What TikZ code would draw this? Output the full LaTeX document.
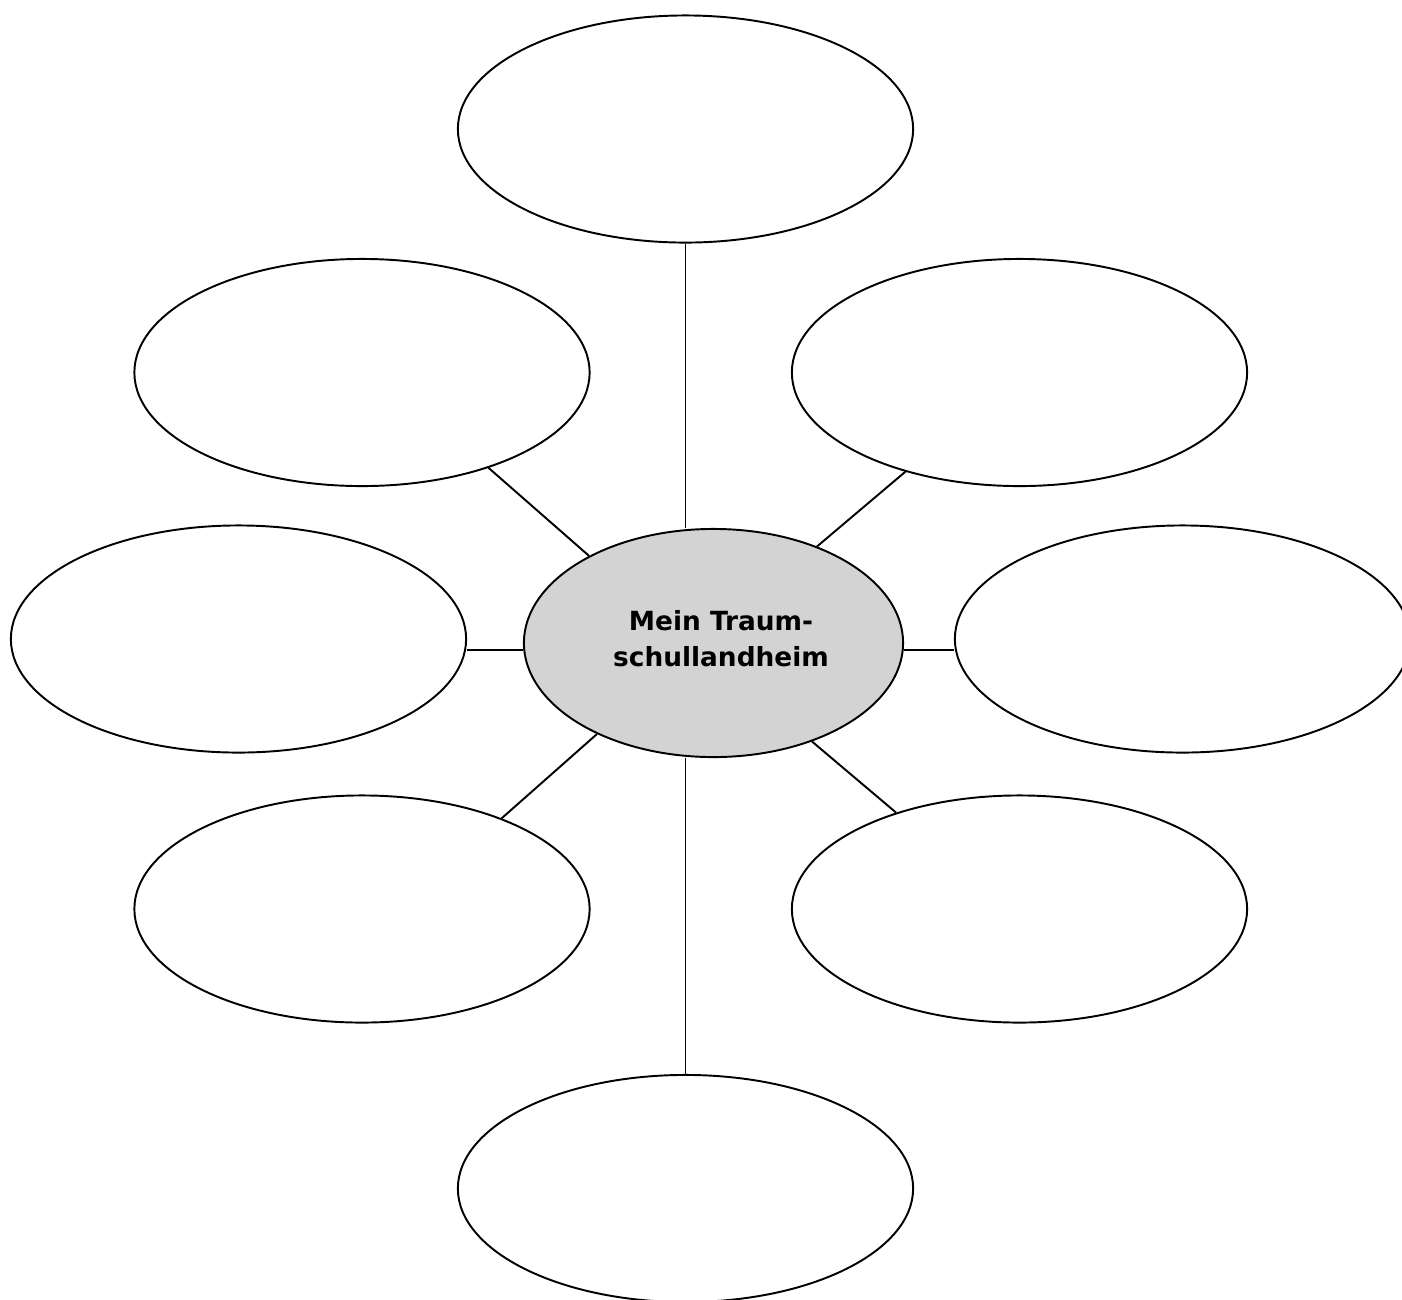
\documentclass[tikz,border=0pt]{standalone}
\usepackage{fontspec}
\setmainfont{DejaVu Sans}
\usepackage{tikz}
\usetikzlibrary{shapes.geometric}
\definecolor{centregray}{RGB}{211,211,211}
\tikzset{
    bubble/.style={draw, ellipse, line width=0.55pt, inner sep=0pt, minimum width=4.55cm, minimum height=2.27cm},
    centre/.style={bubble, fill=centregray, minimum width=3.79cm, minimum height=2.28cm, align=center, text depth=0.09cm, font=\fontsize{7.5}{10.5}\selectfont\bfseries},
    spoke/.style={line width=0.55pt}
}

\begin{document}
\begin{tikzpicture}[x=0.01cm, y=-0.01cm]
\useasboundingbox (0,0) rectangle (1402,1299);
\clip (0,0) rectangle (1402,1299);

\node[centre] (mid) at (713.5,643) {\hspace*{0.15cm}Mein Traum-\\\hspace*{0.15cm}schullandheim};

\node[bubble] (top) at (685.5,129) {};
\node[bubble] (upleft) at (362,372.5) {};
\node[bubble] (upright) at (1019.5,372.5) {};
\node[bubble] (left) at (238.5,639) {};
\node[bubble] (right) at (1182.5,639) {}; % runs off the right edge
\node[bubble] (lowleft) at (362,909) {};
\node[bubble] (lowright) at (1019.5,909) {};
\node[bubble] (bottom) at (685.5,1188.5) {}; % runs off the bottom edge

\draw[spoke] (top.south) -- (top.south |- mid.north);
\draw[spoke] (upleft.323) -- (mid.145);
\draw[spoke] (upright.221) -- (mid.43);
\draw[spoke] ([yshift=-0.11cm]left.east) -- ([yshift=-0.11cm]left.east -| mid.west);
\draw[spoke] ([yshift=-0.11cm]right.west) -- ([yshift=-0.11cm]right.west -| mid.east);
\draw[spoke] (lowleft.33) -- (mid.218);
\draw[spoke] (lowright.142) -- (mid.315);
\draw[spoke] (bottom.north) -- (bottom.north |- mid.south);

\end{tikzpicture}
\end{document}
